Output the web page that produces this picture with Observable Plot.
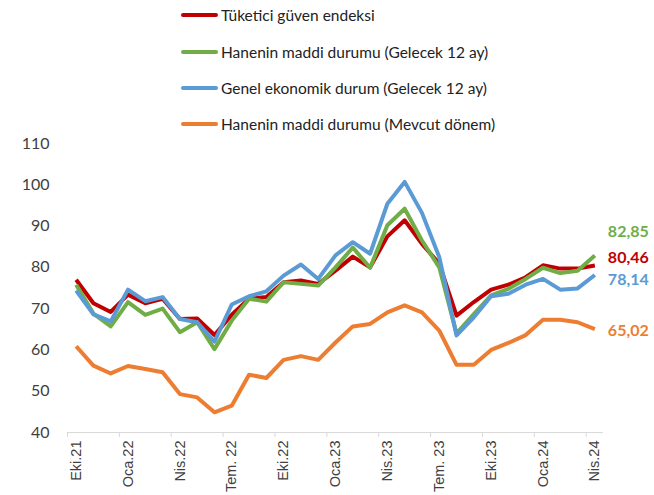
<!DOCTYPE html>
<html>
<head>
<meta charset="utf-8">
<script src="https://cdn.jsdelivr.net/npm/d3@7"></script>
<script src="https://cdn.jsdelivr.net/npm/@observablehq/plot@0.6"></script>
<style>
  body { margin: 0; background: #fff; width: 654px; height: 495px; overflow: hidden; }
  #legend { position: relative; width: 654px; height: 135px; font-family: Lato, "Open Sans", sans-serif; font-size: 15.5px; color: #222; }
  .row { position: absolute; left: 181px; height: 20px; display: flex; align-items: center; }
  .sw { width: 37px; height: 4px; margin-right: 3px; border-radius: 2px; }
  #chart svg { display: block; }
</style>
</head>
<body>
<div id="legend"></div>
<div id="chart"></div>
<script>
const months = ["Eki.21","Kas.21","Ara.21","Oca.22","Şub.22","Mar.22","Nis.22","May.22","Haz.22","Tem. 22","Ağu.22","Eyl.22","Eki.22","Kas.22","Ara.22","Oca.23","Şub.23","Mar.23","Nis.23","May.23","Haz.23","Tem. 23","Ağu.23","Eyl.23","Eki.23","Kas.23","Ara.23","Oca.24","Şub.24","Mar.24","Nis.24"];

const seriesNames = ["Tüketici güven endeksi", "Hanenin maddi durumu (Gelecek 12 ay)", "Genel ekonomik durum (Gelecek 12 ay)", "Hanenin maddi durumu (Mevcut dönem)"];
const seriesColors = ["#C00000", "#70AD47", "#5B9BD5", "#ED7D31"];

const tuketici = [77.0,71.3,69.2,73.4,71.3,72.4,67.5,67.6,63.6,68.5,72.4,72.8,76.4,76.8,76.0,79.2,82.6,80.0,87.5,91.4,85.7,80.9,68.3,71.6,74.6,75.8,77.6,80.5,79.7,79.7,80.46];
const haneGelecek = [75.8,68.8,65.7,71.6,68.5,70.0,64.3,66.7,60.2,67.1,72.4,71.7,76.4,76.0,75.6,80.0,84.8,79.9,90.2,94.2,86.5,80.0,64.0,68.7,73.2,74.8,77.2,79.9,78.6,79.2,82.85];
const genelEkonomik = [74.4,68.6,66.9,74.6,71.8,72.8,67.5,66.7,62.0,71.0,73.0,74.2,78.0,80.7,77.2,82.9,86.1,83.3,95.4,100.7,93.2,82.5,63.5,67.9,73.0,73.6,75.8,77.2,74.6,74.9,78.14];
const haneMevcut = [60.9,56.2,54.3,56.1,55.4,54.6,49.3,48.5,44.9,46.5,54.0,53.2,57.6,58.5,57.6,61.8,65.7,66.3,69.1,70.8,69.1,64.7,56.4,56.4,60.0,61.7,63.6,67.3,67.3,66.7,65.02];

const endLabels = ["80,46", "82,85", "78,14", "65,02"];
const yTicks = [40, 50, 60, 70, 80, 90, 100, 110];

const allSeries = [tuketici, haneGelecek, genelEkonomik, haneMevcut];

// legend
const legend = document.getElementById("legend");
const rowY = [5, 42, 78, 114];
seriesNames.forEach((name, k) => {
  const r = document.createElement("div");
  r.className = "row";
  r.style.top = rowY[k] + "px";
  r.innerHTML = `<div class="sw" style="background:${seriesColors[k]}"></div><span>${name}</span>`;
  legend.appendChild(r);
});

const data = allSeries.map((vals, k) => vals.map((v, i) => ({i, value: v, k})));
const labelDy = [-8, -24, 5, 2];

const marks = [
  Plot.ruleY([40], {stroke: "#d9d9d9", strokeWidth: 1}),
  Plot.axisX({ticks: d3.range(-0.5, 31, 3), tickSize: 5, stroke: "#d9d9d9", tickFormat: () => "", label: null}),
  Plot.axisX({ticks: d3.range(0, 31, 3), tickSize: 0, tickPadding: 8, tickRotate: -90, tickFormat: i => months[i], fontSize: 14.5, fill: "#404040", fontFamily: "Liberation Sans, Arial, sans-serif", label: null}),
  Plot.axisY({ticks: yTicks, tickSize: 0, tickPadding: 18, fontSize: 16, fill: "#404040", fontFamily: "Lato, sans-serif", label: null}),
  ...data.map((d, k) => Plot.line(d, {x: "i", y: "value", stroke: seriesColors[k], strokeWidth: 4, strokeLinejoin: "round", strokeLinecap: "butt"})),
  ...data.map((d, k) => Plot.text([d[d.length - 1]], {x: "i", y: "value", text: () => endLabels[k], fill: seriesColors[k], dx: 13, dy: labelDy[k], textAnchor: "start", fontSize: 16, fontWeight: "bold", fontFamily: "Lato, sans-serif"}))
];

const chart = Plot.plot({
  width: 654,
  height: 360,
  marginTop: 8,
  marginBottom: 63,
  marginLeft: 67,
  marginRight: 51,
  x: {domain: [-0.5, 30.5], label: null},
  y: {domain: [40, 110], label: null},
  style: {background: "white", overflow: "visible"},
  marks
});
document.getElementById("chart").appendChild(chart);
</script>
</body>
</html>
